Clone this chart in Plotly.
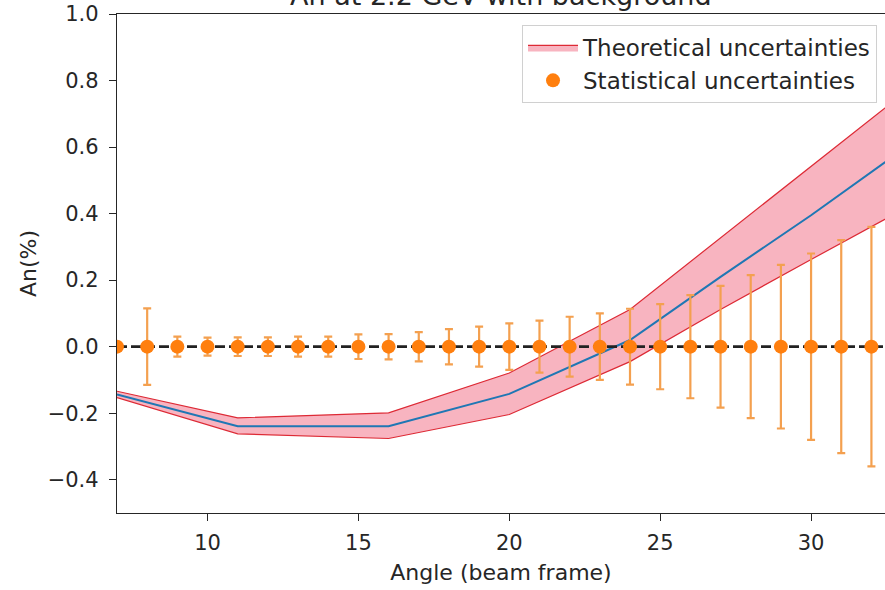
import plotly.graph_objects as go

# --- data ---
angles = list(range(7, 33))
an_values = [0.0] * len(angles)
stat_err = [0.01, 0.115, 0.03, 0.027, 0.028, 0.028, 0.03, 0.03, 0.037, 0.038,
            0.044, 0.053, 0.06, 0.07, 0.078, 0.09, 0.1, 0.114, 0.128, 0.155,
            0.183, 0.215, 0.246, 0.28, 0.32, 0.36]

theory_angles = [7, 11, 16, 20, 24, 27, 30, 33]
theory_upper = [-0.134, -0.214, -0.199, -0.079, 0.112, 0.326, 0.54, 0.757]
theory_center = [-0.144, -0.239, -0.239, -0.142, 0.02, 0.21, 0.395, 0.59]
theory_lower = [-0.153, -0.262, -0.276, -0.204, -0.045, 0.112, 0.262, 0.41]

x_range = [7, 32.45]
y_range = [-0.5, 1.0]
x_ticks = [10, 15, 20, 25, 30]
y_ticks = [-0.4, -0.2, 0.0, 0.2, 0.4, 0.6, 0.8, 1.0]

FONT = "DejaVu Sans"
TXT = "#262626"
fig = go.Figure()

fig.add_trace(go.Scatter(x=theory_angles, y=theory_lower, mode="lines",
                         line=dict(color="#dd2a35", width=1.2),
                         legendgroup="th", showlegend=False, hoverinfo="skip"))
fig.add_trace(go.Scatter(x=theory_angles, y=theory_upper, mode="lines",
                         line=dict(color="#dd2a35", width=1.2),
                         fill="tonexty", fillcolor="#f8b4c0", legendgroup="th",
                         name="Theoretical uncertainties"))
fig.add_trace(go.Scatter(x=theory_angles, y=theory_center, mode="lines",
                         line=dict(color="#1f77b4", width=2),
                         showlegend=False))
fig.add_trace(go.Scatter(x=x_range, y=[0, 0], mode="lines",
                         line=dict(color="#222222", width=2.8, dash="10px,4px"),
                         showlegend=False))
fig.add_trace(go.Scatter(x=angles, y=an_values, mode="markers",
                         marker=dict(color="#ff7f0e", size=14),
                         error_y=dict(type="data", array=stat_err, visible=True,
                                      color="#f4a04f", thickness=2.2, width=4),
                         legendgroup="st",
                         name="Statistical uncertainties"))

fig.update_layout(
    width=885, height=590,
    margin=dict(l=117, r=0, t=14, b=77),
    paper_bgcolor="white", plot_bgcolor="white",
    font=dict(family=FONT, size=21, color=TXT),
    legend=dict(x=0.9896, xanchor="right", y=0.978, yanchor="top",
                traceorder="normal", itemwidth=50,
                bgcolor="white", bordercolor="#d0d0d0", borderwidth=1,
                font=dict(family=FONT, size=23, color=TXT),
                tracegroupgap=4),
    showlegend=True,
    annotations=[dict(text="An at 2.2 GeV with background", xref="paper", yref="paper",
                      x=0.5, y=1.0, xanchor="center", yanchor="bottom", yshift=1,
                      showarrow=False, font=dict(family=FONT, size=27, color=TXT))],
)
fig.update_xaxes(range=x_range, tickvals=x_ticks, showgrid=False, zeroline=False,
                 showline=True, linecolor=TXT, linewidth=1.3, mirror=True,
                 ticks="outside", ticklen=7, tickcolor=TXT, automargin=False,
                 ticklabelstandoff=4,
                 tickfont=dict(family=FONT, size=21, color=TXT),
                 title=dict(text="Angle (beam frame)", standoff=10,
                            font=dict(family=FONT, size=22, color=TXT)))
fig.update_yaxes(range=y_range, tickvals=y_ticks, tickformat=".1f", showgrid=False,
                 zeroline=False, showline=True, linecolor=TXT, linewidth=1.3,
                 ticks="outside", ticklen=7, tickcolor=TXT, automargin=False,
                 ticklabelstandoff=6,
                 tickfont=dict(family=FONT, size=21, color=TXT),
                 title=dict(text="An(%)", standoff=4,
                            font=dict(family=FONT, size=22, color=TXT)))

fig.write_html("out.html", config={"displayModeBar": False},
               post_script="document.body.style.margin='0';")
